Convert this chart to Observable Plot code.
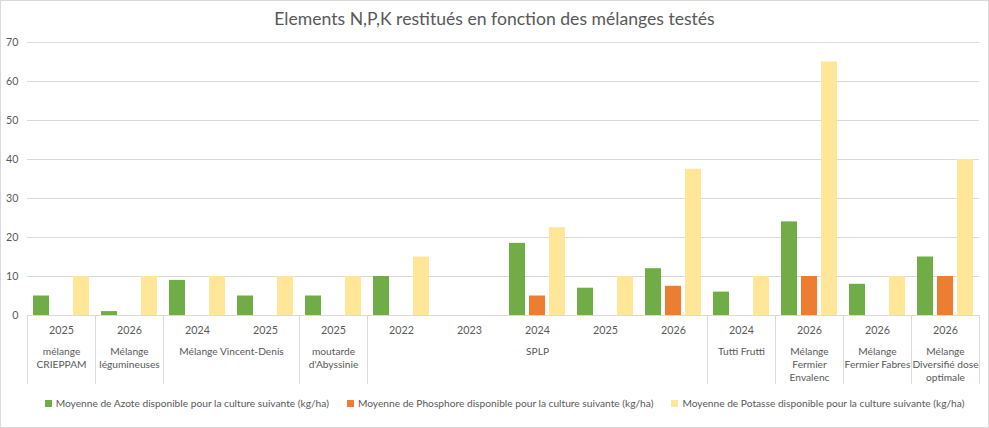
<!DOCTYPE html>
<html><head><meta charset="utf-8">
<script src="https://cdn.jsdelivr.net/npm/d3@7"></script>
<script src="https://cdn.jsdelivr.net/npm/@observablehq/plot@0.6"></script>
<style>
html,body{margin:0;padding:0;background:#fff;}
#chart{position:relative;box-sizing:border-box;width:989px;height:428px;border:1px solid #d9d9d9;overflow:hidden;font-family:Lato,"Open Sans",sans-serif;color:#595959;}
#title{height:25px;padding-top:5px;line-height:25px;text-align:center;font-size:17.6px;color:#595959;}
#plot{height:358px;}
#legend{display:flex;justify-content:center;align-items:center;gap:18px;height:28px;font-size:10.2px;color:#595959;margin-left:20px;white-space:nowrap;}
#legend .it{display:flex;align-items:center;gap:4px;flex-shrink:0;}
#legend .sw{width:7px;height:7px;display:inline-block;}
</style>
</head><body>
<div id="chart">
  <div id="title">Elements N,P,K restitués en fonction des mélanges testés</div>
  <div id="plot"></div>
  <div id="legend"></div>
</div>
<script>
// ---- data ----
const years = [2025, 2026, 2024, 2025, 2025, 2022, 2023, 2024, 2025, 2026, 2024, 2026, 2026, 2026];
const melanges = ["mélange CRIEPPAM", "Mélange légumineuses", "Mélange Vincent-Denis", "Mélange Vincent-Denis",
  "moutarde d'Abyssinie", "SPLP", "SPLP", "SPLP", "SPLP", "SPLP", "Tutti Frutti",
  "Mélange Fermier Envalenc", "Mélange Fermier Fabres", "Mélange Diversifié dose optimale"];
const melangeLabels = {
  "mélange CRIEPPAM": "mélange\nCRIEPPAM",
  "Mélange légumineuses": "Mélange\nlégumineuses",
  "Mélange Vincent-Denis": "Mélange Vincent-Denis",
  "moutarde d'Abyssinie": "moutarde\nd'Abyssinie",
  "SPLP": "SPLP",
  "Tutti Frutti": "Tutti Frutti",
  "Mélange Fermier Envalenc": "Mélange\nFermier\nEnvalenc",
  "Mélange Fermier Fabres": "Mélange\nFermier Fabres",
  "Mélange Diversifié dose optimale": "Mélange\nDiversifié dose\noptimale"
};
const azote     = [5, 1, 9, 5, 5, 10, null, 18.5, 7, 12, 6, 24, 8, 15];
const phosphore = [null, null, null, null, null, null, null, 5, null, 7.5, null, 10, null, 10];
const potasse   = [10, 10, 10, 10, 10, 15, null, 22.5, 10, 37.5, 10, 65, 10, 40];
const seriesNames = [
  "Moyenne de Azote disponible pour la culture suivante (kg/ha)",
  "Moyenne de Phosphore disponible pour la culture suivante (kg/ha)",
  "Moyenne de Potasse disponible pour la culture suivante (kg/ha)"
];
const seriesColors = ["#70ad47", "#ed7d31", "#ffe699"];
const yTicks = [0, 10, 20, 30, 40, 50, 60, 70];

// ---- build tables ----
const seriesValues = [azote, phosphore, potasse];
const rows = [];
seriesValues.forEach((vals, k) => vals.forEach((v, i) => {
  if (v != null) rows.push({i, k, v, serie: seriesNames[k]});
}));
const yearRows = years.map((y, i) => ({i, year: String(y)}));
const spans = [];
melanges.forEach((m, i) => {
  if (i === 0 || melanges[i - 1] !== m) spans.push({name: m, start: i, end: i + 1});
  else spans[spans.length - 1].end = i + 1;
});
const bounds = [0, ...spans.map(s => s.end)];

const N = years.length;
const u = 1 / 68;
const plot = Plot.plot({
  width: 987,
  height: 358,
  marginTop: 11,
  marginBottom: 74,
  marginLeft: 26,
  marginRight: 9,
  style: {fontFamily: "Lato, 'Open Sans', sans-serif", color: "#595959", background: "#fff"},
  x: {domain: [0, N], axis: null},
  y: {domain: [0, 70], axis: null},
  color: {domain: seriesNames, range: seriesColors},
  marks: [
    Plot.gridY(yTicks.filter(t => t > 0), {stroke: "#d9d9d9", strokeOpacity: 1, strokeWidth: 1}),
    Plot.axisY(yTicks, {tickSize: 0, tickPadding: 9, fontSize: 10.7, fill: "#595959", label: null}),
    Plot.rectY(rows, {
      x1: d => d.i + (6 + d.k * 20) * u,
      x2: d => d.i + (22 + d.k * 20) * u,
      y: "v",
      fill: "serie"
    }),
    Plot.ruleY([0], {stroke: "#d9d9d9", strokeWidth: 1}),
    Plot.ruleX(bounds, {x: d => d, y1: 0, y2: 0, insetBottom: -69, stroke: "#d9d9d9", strokeWidth: 1}),
    Plot.text(yearRows, {x: d => d.i + 0.5, y: 0, dy: 15, text: "year", fontSize: 10.7, fill: "#595959"}),
    Plot.text(spans, {
      x: d => (d.start + d.end) / 2, y: 0, dy: 30,
      text: d => melangeLabels[d.name],
      lineAnchor: "top", lineHeight: 1.3, fontSize: 10.2, fill: "#595959"
    })
  ]
});
document.getElementById("plot").appendChild(plot);

const leg = document.getElementById("legend");
seriesNames.forEach((n, k) => {
  const it = document.createElement("div");
  it.className = "it";
  const sw = document.createElement("span");
  sw.className = "sw";
  sw.style.background = seriesColors[k];
  const tx = document.createElement("span");
  tx.textContent = n;
  it.appendChild(sw); it.appendChild(tx);
  leg.appendChild(it);
});
</script>
</body></html>
